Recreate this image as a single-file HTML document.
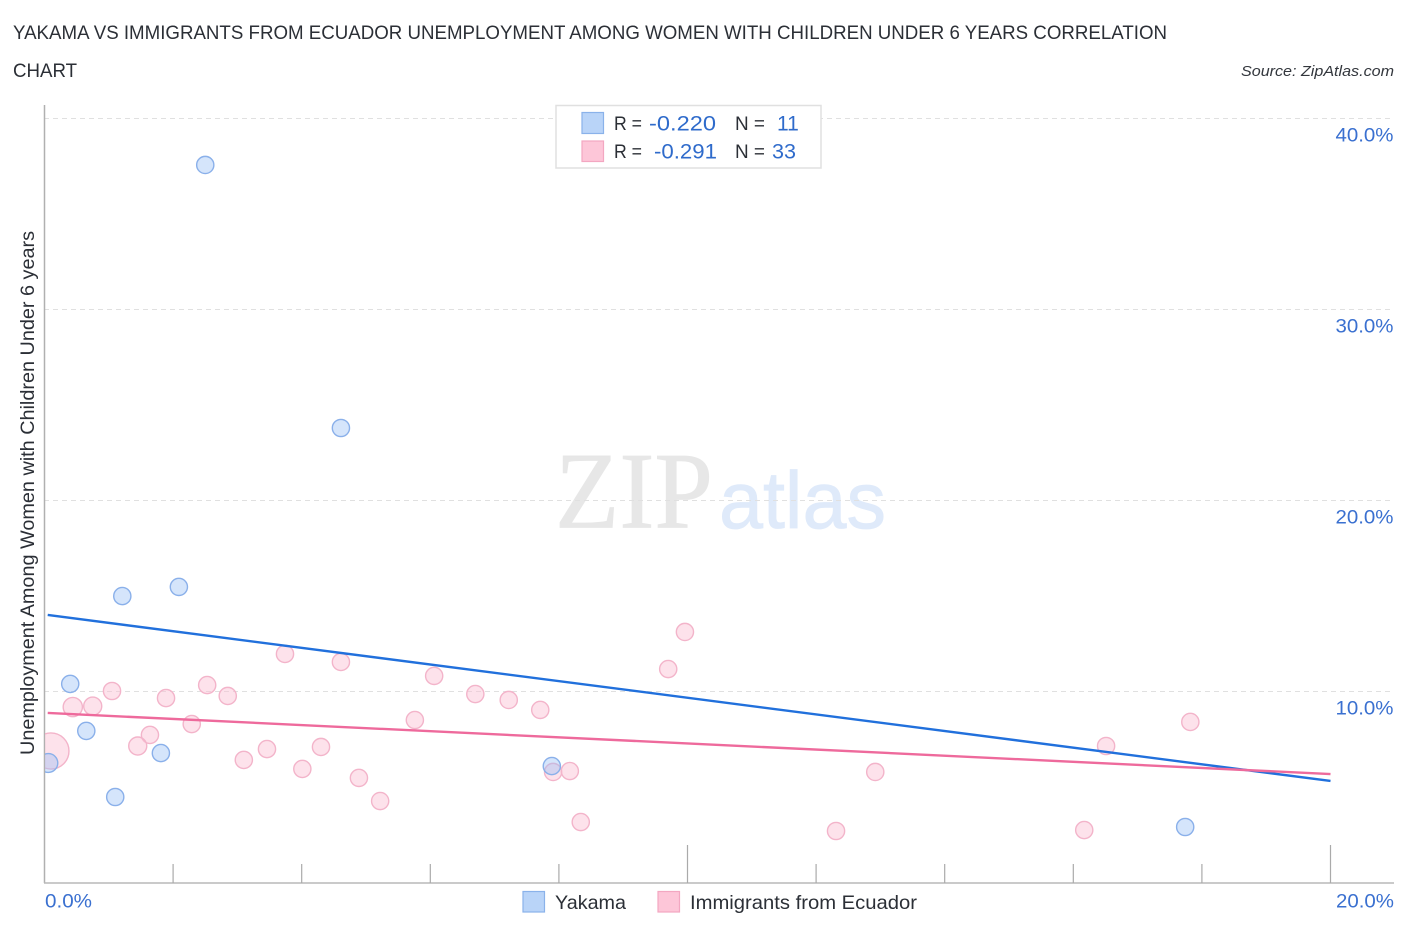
<!DOCTYPE html>
<html>
<head>
<meta charset="utf-8">
<title>Yakama vs Immigrants from Ecuador</title>
<style>
html,body{margin:0;padding:0;background:#fff;}
svg{display:block;font-family:"Liberation Sans",sans-serif;}
</style>
</head>
<body>
<svg id="chart" width="1406" height="930" viewBox="0 0 1406 930" xmlns="http://www.w3.org/2000/svg">
  <defs>
    <clipPath id="plot-clip"><rect x="45" y="100" width="1349" height="783"/></clipPath>
  </defs>
  <g>
    <text x="555" y="527.5" font-family="'Liberation Serif',serif" font-size="109" fill="#e7e7e7" stroke="#e7e7e7" stroke-width="0.8" textLength="158" lengthAdjust="spacingAndGlyphs">ZIP</text>
    <text x="719" y="528" font-family="'Liberation Sans',sans-serif" font-size="81" fill="#dfeafa" stroke="#dfeafa" stroke-width="0.8" textLength="167" lengthAdjust="spacingAndGlyphs">atlas</text>
  </g>
  <g id="grid"></g>
  <g id="axes"></g>
  <g clip-path="url(#plot-clip)">
    <g id="pink-points"></g>
    <g id="blue-points"></g>
    <g id="trends"></g>
  </g>
  <g id="ylabels"></g>

  <text x="13" y="39" font-size="19.5" fill="#2b2f36" textLength="1154" lengthAdjust="spacingAndGlyphs">YAKAMA VS IMMIGRANTS FROM ECUADOR UNEMPLOYMENT AMONG WOMEN WITH CHILDREN UNDER 6 YEARS CORRELATION</text>
  <text x="13" y="77" font-size="19.5" fill="#2b2f36" textLength="64" lengthAdjust="spacingAndGlyphs">CHART</text>
  <text x="1241" y="76" font-size="15" font-style="italic" fill="#33373d" textLength="153" lengthAdjust="spacingAndGlyphs">Source: ZipAtlas.com</text>
  <text transform="translate(34,755) rotate(-90)" x="0" y="0" font-size="19" fill="#2b2f36" textLength="524" lengthAdjust="spacingAndGlyphs">Unemployment Among Women with Children Under 6 years</text>

  <g>
    <rect x="556" y="105.5" width="265" height="62.5" fill="#fff" stroke="#e0e0e0" stroke-width="1.5"/>
    <rect x="582" y="112.5" width="21.5" height="21" fill="#b9d4f8" stroke="#8ab2ea" stroke-width="1.2"/>
    <rect x="582" y="141" width="21.5" height="20.5" fill="#fdc6d8" stroke="#f3a7c1" stroke-width="1.2"/>
    <text x="614" y="130" font-size="19" fill="#2b2f36" textLength="28" lengthAdjust="spacingAndGlyphs">R =</text>
    <text x="649" y="130.5" font-size="21" fill="#2f6bcb" textLength="67" lengthAdjust="spacingAndGlyphs">-0.220</text>
    <text x="735" y="130" font-size="19" fill="#2b2f36" textLength="30" lengthAdjust="spacingAndGlyphs">N =</text>
    <text x="777" y="130.5" font-size="21" fill="#2f6bcb">11</text>
    <text x="614" y="158" font-size="19" fill="#2b2f36" textLength="28" lengthAdjust="spacingAndGlyphs">R =</text>
    <text x="654" y="158.5" font-size="21" fill="#2f6bcb" textLength="63" lengthAdjust="spacingAndGlyphs">-0.291</text>
    <text x="735" y="158" font-size="19" fill="#2b2f36" textLength="30" lengthAdjust="spacingAndGlyphs">N =</text>
    <text x="772" y="158.5" font-size="21" fill="#2f6bcb" textLength="24" lengthAdjust="spacingAndGlyphs">33</text>
  </g>

  <text x="45" y="907.5" font-size="19.5" fill="#3a70d0" textLength="47" lengthAdjust="spacingAndGlyphs">0.0%</text>
  <text x="1336" y="907.5" font-size="19.5" fill="#3a70d0" textLength="58" lengthAdjust="spacingAndGlyphs">20.0%</text>

  <g>
    <rect x="523" y="891.5" width="21.5" height="20.5" fill="#b9d4f8" stroke="#8ab2ea" stroke-width="1.2"/>
    <text x="555" y="909" font-size="19.5" fill="#2b2f36" textLength="71" lengthAdjust="spacingAndGlyphs">Yakama</text>
    <rect x="658" y="891.5" width="21.5" height="20.5" fill="#fdc6d8" stroke="#f3a7c1" stroke-width="1.2"/>
    <text x="690" y="909" font-size="19.5" fill="#2b2f36" textLength="227" lengthAdjust="spacingAndGlyphs">Immigrants from Ecuador</text>
  </g>
</svg>
<script>
const yakamaX = [2.50, 4.61, 2.09, 1.21, 0.40, 0.65, 1.81, 0.06, 1.10, 7.89, 17.74];
const yakamaY = [37.54, 23.77, 15.45, 14.97, 10.37, 7.91, 6.75, 6.23, 4.45, 6.07, 2.88];
const yakamaWeight = [1, 1, 1, 1, 1, 1, 1, 1.2, 1, 1, 1];
const ecuadorX = [0.10, 0.44, 0.75, 1.05, 1.89, 2.53, 2.85, 2.29, 1.64, 1.45, 3.10, 3.46, 4.01, 4.30, 4.89, 5.22, 3.74, 4.61, 5.76, 6.06, 6.70, 7.22, 7.71, 7.91, 8.17, 8.34, 9.70, 9.96, 12.31, 12.92, 16.17, 16.51, 17.82];
const ecuadorY = [6.86, 9.16, 9.21, 10.00, 9.63, 10.31, 9.74, 8.27, 7.70, 7.12, 6.39, 6.96, 5.92, 7.07, 5.45, 4.24, 11.94, 11.52, 8.48, 10.79, 9.84, 9.53, 9.01, 5.76, 5.81, 3.14, 11.15, 13.09, 2.67, 5.76, 2.72, 7.12, 8.38];
const ecuadorWeight = [4.4, 1.25, 1.1, 1, 1, 1, 1, 1, 1, 1.1, 1, 1, 1, 1, 1, 1, 1, 1, 1, 1, 1, 1, 1, 1, 1, 1, 1, 1, 1, 1, 1, 1, 1];
const yakamaTrendX = [0.05, 20];
const yakamaTrendY = [13.98, 5.29];
const ecuadorTrendX = [0.05, 20];
const ecuadorTrendY = [8.85, 5.65];
const yTicks = [10, 20, 30, 40];
const yTickLabels = ['10.0%', '20.0%', '30.0%', '40.0%'];
const xTicks = [2, 4, 6, 8, 10, 12, 14, 16, 18, 20];

const NS = 'http://www.w3.org/2000/svg';
const sx = v => 44.5 + v * 64.3;
const sy = v => 882 - v * 19.1;
function make(tag, parent, attrs) {
  const el = document.createElementNS(NS, tag);
  for (const k in attrs) el.setAttribute(k, attrs[k]);
  document.getElementById(parent).appendChild(el);
  return el;
}

yTicks.forEach(function (t, i) {
  const g = make('line', 'grid', {x1: 44, x2: 1394, y1: sy(t) + 0.5, y2: sy(t) + 0.5, stroke: '#e0e0e0', 'stroke-width': 1, 'stroke-dasharray': '5 4'});
  
  
  const lab = make('text', 'ylabels', {x: 1335.5, y: sy(t) + 23.5, 'font-size': 19.5, fill: '#3a70d0', textLength: 58, lengthAdjust: 'spacingAndGlyphs'});
  lab.textContent = yTickLabels[i];
  
  
});

const yAxis = make('line', 'axes', {x1: 44.5, x2: 44.5, y1: 105, y2: 883, stroke: '#b0b0b0', 'stroke-width': 1.5});


const xAxis = make('line', 'axes', {x1: 44, x2: 1394, y1: 883, y2: 883, stroke: '#b8b8b8', 'stroke-width': 1.5});


xTicks.forEach(function (t) {
  const major = t % 10 === 0;
  const tick = make('line', 'axes', {x1: sx(t), x2: sx(t), y1: major ? 845 : 864, y2: 883, stroke: '#aaaaaa', 'stroke-width': 1.2});
  
  
});

ecuadorX.forEach(function (x, i) {
  const c = make('circle', 'pink-points', {cx: sx(x), cy: sy(ecuadorY[i]), r: 8.6 * Math.sqrt(ecuadorWeight[i]), fill: 'rgba(250,190,210,0.45)', stroke: '#f3b4ca', 'stroke-width': 1.4});
  
  
});
yakamaX.forEach(function (x, i) {
  const c = make('circle', 'blue-points', {cx: sx(x), cy: sy(yakamaY[i]), r: 8.6 * Math.sqrt(yakamaWeight[i]), fill: 'rgba(150,190,245,0.4)', stroke: '#8ab0ea', 'stroke-width': 1.4});
  
  
});

const blueLine = make('line', 'trends', {x1: sx(yakamaTrendX[0]), y1: sy(yakamaTrendY[0]), x2: sx(yakamaTrendX[1]), y2: sy(yakamaTrendY[1]), stroke: '#2170dc', 'stroke-width': 2.4});


const pinkLine = make('line', 'trends', {x1: sx(ecuadorTrendX[0]), y1: sy(ecuadorTrendY[0]), x2: sx(ecuadorTrendX[1]), y2: sy(ecuadorTrendY[1]), stroke: '#ee6a9c', 'stroke-width': 2.4});


</script>
</body>
</html>
